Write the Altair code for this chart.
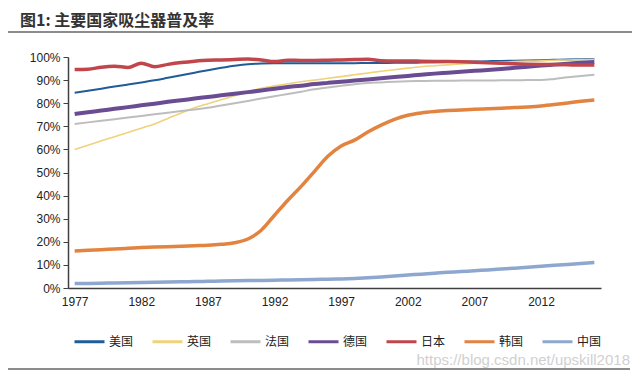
import altair as alt
import pandas as pd

years = list(range(1977, 2017))
countries = ["美国", "英国", "法国", "德国", "日本", "韩国", "中国"]
colors = ["#1F5C99", "#EFD27A", "#BDBDBD", "#6A4C93", "#C0464B", "#E2833F", "#8EA7CF"]
widths = [2, 1.6, 2, 4, 3.5, 3.5, 3.5]

usa = [84.5, 85.4, 86.3, 87.2, 88.1, 89.0, 89.9, 91.0, 92.1, 93.2, 94.3, 95.3, 96.2, 96.9, 97.2, 97.3, 97.3, 97.3, 97.3, 97.3,
       97.3, 97.3, 97.4, 97.4, 97.5, 97.5, 97.6, 97.7, 97.8, 97.9, 98.0, 98.2, 98.3, 98.4, 98.5, 98.6, 98.8, 98.9, 99.0, 99.1]
uk = [60, 61.8, 63.7, 65.5, 67.3, 69.2, 71, 73.4, 75.8, 78, 79.8, 81.5, 83.2, 84.9, 86.5, 87.5, 88.4, 89.3, 90, 90.8,
      91.5, 92.3, 93.1, 93.8, 94.5, 95.2, 95.8, 96.2, 96.6, 97, 97.3, 97.6, 97.8, 98, 98.2, 98.4, 98.6, 98.7, 98.9, 99]
france = [71, 71.7, 72.4, 73.1, 73.8, 74.5, 75.2, 75.9, 76.6, 77.3, 78, 79, 80, 81, 82, 83, 84, 85, 86, 86.8,
          87.5, 88.2, 88.7, 89, 89.3, 89.5, 89.6, 89.7, 89.7, 89.8, 89.8, 89.8, 89.9, 89.9, 90, 90, 90.5, 91.2, 91.8, 92.3]
germany = [75.3, 76.1, 76.8, 77.6, 78.3, 79.1, 79.8, 80.6, 81.3, 82, 82.7, 83.4, 84.1, 84.8, 85.5, 86.3, 87, 87.6, 88.3, 88.8,
           89.3, 89.8, 90.3, 90.8, 91.3, 91.8, 92.3, 92.8, 93.2, 93.6, 94, 94.4, 94.8, 95.3, 95.8, 96.3, 96.7, 97.1, 97.5, 97.8]
japan = [94.6, 94.7, 95.6, 96.0, 95.5, 97.3, 95.8, 96.8, 97.6, 98.2, 98.6, 98.7, 98.9, 99.1, 98.7, 98, 98.6, 98.5, 98.5, 98.6,
         98.7, 98.9, 99, 98.4, 98.3, 98.3, 98.2, 98.1, 98, 97.9, 97.7, 97.5, 97.3, 97.1, 96.9, 96.8, 96.7, 96.6, 96.5, 96.5]
korea = [16, 16.3, 16.6, 16.9, 17.2, 17.5, 17.7, 17.9, 18.1, 18.3, 18.5, 18.9, 19.6, 21.2, 25, 31.5, 38, 44, 50.5, 57,
         61.5, 64, 67.5, 70.5, 73, 74.8, 75.8, 76.4, 76.8, 77.1, 77.4, 77.6, 77.8, 78.1, 78.4, 78.8, 79.4, 80.1, 80.8, 81.4]
china = [1.9, 2, 2.1, 2.2, 2.3, 2.4, 2.5, 2.6, 2.7, 2.8, 2.9, 3.0, 3.1, 3.2, 3.3, 3.4, 3.5, 3.6, 3.7, 3.8,
         3.9, 4.1, 4.4, 4.8, 5.2, 5.6, 6.0, 6.4, 6.8, 7.1, 7.5, 7.8, 8.2, 8.6, 9.0, 9.4, 9.8, 10.2, 10.6, 11]

x_ticks = [1977, 1982, 1987, 1992, 1997, 2002, 2007, 2012]
y_ticks = list(range(0, 101, 10))

series = [usa, uk, france, germany, japan, korea, china]
rows = []
for i, (name, vals) in enumerate(zip(countries, series)):
    for y, v in zip(years, vals):
        rows.append({"year": y, "country": name, "value": v, "order": i, "sw": widths[i]})
df = pd.DataFrame(rows)

lines = alt.Chart(df).mark_line(interpolate="monotone").encode(
    x=alt.X("year:Q", scale=alt.Scale(domain=[1976.5, 2016.5], nice=False, zero=False),
            axis=alt.Axis(values=x_ticks, format="d", title=None, ticks=False, grid=False,
                          labelFont="Liberation Sans", labelFontSize=12, labelColor="#222",
                          domainColor="#404040", domainWidth=1.5, labelPadding=8)),
    y=alt.Y("value:Q", scale=alt.Scale(domain=[0, 100], nice=False),
            axis=alt.Axis(values=y_ticks, labelExpr="datum.value + '%'", title=None, grid=False,
                          ticks=True, tickSize=5, tickColor="#404040", domainColor="#404040", domainWidth=1.5,
                          labelFont="Liberation Sans", labelFontSize=12, labelColor="#222", labelPadding=3)),
    color=alt.Color("country:N", scale=alt.Scale(domain=countries, range=colors),
                    legend=alt.Legend(title=None, orient="none", legendX=5, legendY=268, direction="horizontal",
                                      symbolType="stroke", symbolSize=900, symbolStrokeWidth=3,
                                      labelFont="Noto Sans CJK SC",
                                      labelFontSize=12, labelColor="#222", columnPadding=12, labelOffset=3)),
    strokeWidth=alt.StrokeWidth("sw:Q", scale=None),
    detail="country:N",
    order=alt.Order("year:Q"),
)

deco = pd.DataFrame({"t": ["图1:  主要国家吸尘器普及率"]})
title = alt.Chart(deco).mark_text(align="left", baseline="middle", font="Noto Sans CJK SC",
                                  fontSize=16, fontWeight="bold", color="#333", dx=-48, dy=-36).encode(
    text="t:N", x=alt.value(0), y=alt.value(0))
top_rule = alt.Chart(deco).mark_rule(color="#666", strokeWidth=1.5).encode(
    x=alt.value(-60), x2=alt.value(564), y=alt.value(-25))
bottom_rule = alt.Chart(deco).mark_rule(color="#666", strokeWidth=1.5).encode(
    x=alt.value(-60), x2=alt.value(562), y=alt.value(312))
wm = pd.DataFrame({"t": ["https://blog.csdn.net/upskill2018"]})
watermark = alt.Chart(wm).mark_text(align="right", baseline="middle", font="Liberation Sans",
                                    fontSize=15, color="#d0d0d0").encode(
    text="t:N", x=alt.value(562), y=alt.value(303))

chart = alt.layer(lines, title, top_rule, bottom_rule, watermark).properties(
    width=533, height=231,
    autosize=alt.AutoSizeParams(type="none"),
    padding={"left": 60, "top": 49, "right": 31, "bottom": 85},
).configure_view(stroke=None)

chart.save("out.html", embed_options={"renderer": "svg", "actions": False})
